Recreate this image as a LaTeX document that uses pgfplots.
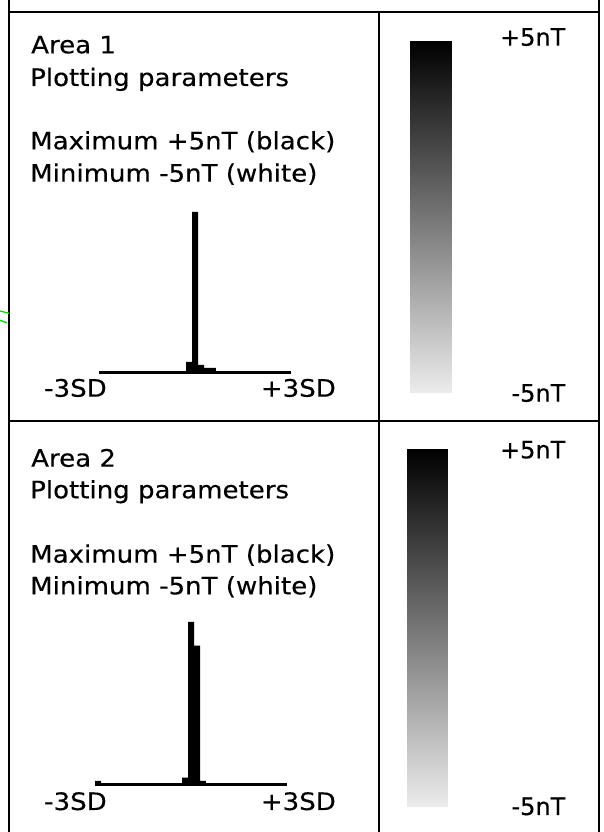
\documentclass[border=0pt]{standalone}
\usepackage{pgfplots}
\pgfplotsset{compat=1.18}
\usepackage{fontspec}
\setmainfont{DejaVu Sans}[FakeStretch=1.085, FakeBold=0.3]
\newfontfamily\unitfont{DejaVu Sans}[FakeBold=0.3]

% histogram counts (bin left edge in SD, height); last row closes the interval
\pgfplotstableread{
x      y
-0.28125 10.3
-0.09375 160.3
0.09375  7.3
0.28125  4.3
0.46875  4.3
0.65625  0
}\histA
\pgfplotstableread{
x      y
-3.0     3.7
-2.8125  0
-0.28125 6.8
-0.09375 162.5
0.09375  138.8
0.28125  3.5
0.46875  0
}\histB

\pgfplotsset{
  histo/.style={scale only axis, hide axis, clip=false, width=192pt, height=170pt,
    xmin=-3, xmax=3, ymin=0, ymax=170, anchor=south west},
  cbar/.style={scale only axis, hide axis, xmin=0, xmax=1, ymin=-5, ymax=5,
    anchor=south west, colormap={bw}{rgb255=(236,236,236) rgb255=(0,0,0)}},
}

\begin{document}
\begin{tikzpicture}[x=1pt, y=1pt, font=\fontsize{24}{29}\selectfont,
  unit/.style={anchor=base east, inner sep=0, font={\unitfont\fontsize{24}{29}\selectfont}}]
\path[use as bounding box] (0,0) rectangle (604,832);

% table frame
\draw[line width=2pt] (9,0) -- (9,832);
\draw[line width=2pt] (599,0) -- (599,832);
\draw[line width=2pt] (9,820) -- (599,820);
\draw[line width=2pt] (9,410.5) -- (599,410.5);
\draw[line width=2pt] (378.5,0) -- (378.5,820);
\draw[green!85!black, line width=1.3pt] (0,521) -- (9,518.7);
\draw[green!85!black, line width=1.3pt] (0,511.7) -- (7,509.3);

% ---- Area 1 ----
\node[anchor=base west, inner sep=0] at (31,778.7) {Area 1};
\node[anchor=base west, inner sep=0] at (30,746) {Plotting parameters};
\node[anchor=base west, inner sep=0] at (30,682.7) {Maximum +5nT (black)};
\node[anchor=base west, inner sep=0] at (30,650.3) {Minimum -5nT (white)};
\node[anchor=base west, inner sep=0] at (44,435.3) {-3SD};
\node[anchor=base east, inner sep=0] at (336,435.3) {+3SD};
\node[unit] at (565.5,786.3) {+5nT};
\node[unit] at (565.5,430.3) {-5nT};

\begin{axis}[histo, at={(99pt,459.7pt)}]
\addplot[ybar interval, fill=black, draw=none] table[x=x, y=y] {\histA};
\addplot[line width=3pt, black] coordinates {(-3,0) (3,0)};
\end{axis}

\begin{axis}[cbar, at={(410pt,439pt)}, width=41pt, height=352pt]
\addplot[surf, shader=interp, point meta=y] coordinates {
(0,-5) (1,-5)

(0,5) (1,5)
};
\end{axis}

% ---- Area 2 ----
\node[anchor=base west, inner sep=0] at (31,365.3) {Area 2};
\node[anchor=base west, inner sep=0] at (30,333.7) {Plotting parameters};
\node[anchor=base west, inner sep=0] at (30,269.3) {Maximum +5nT (black)};
\node[anchor=base west, inner sep=0] at (30,237.7) {Minimum -5nT (white)};
\node[anchor=base west, inner sep=0] at (44,22) {-3SD};
\node[anchor=base east, inner sep=0] at (336,22) {+3SD};
\node[unit] at (565.5,373.7) {+5nT};
\node[unit] at (565.5,17) {-5nT};

\begin{axis}[histo, at={(95pt,47.5pt)}]
\addplot[ybar interval, fill=black, draw=none] table[x=x, y=y] {\histB};
\addplot[line width=3pt, black] coordinates {(-3,0) (3,0)};
\end{axis}

\begin{axis}[cbar, at={(407pt,25pt)}, width=40pt, height=358pt]
\addplot[surf, shader=interp, point meta=y] coordinates {
(0,-5) (1,-5)

(0,5) (1,5)
};
\end{axis}
\end{tikzpicture}
\end{document}
